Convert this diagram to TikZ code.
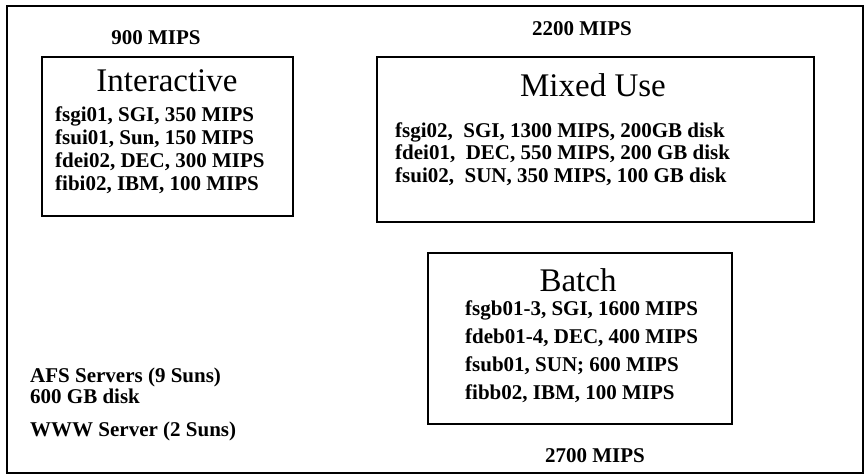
\documentclass[tikz,border=0pt]{standalone}
\usepackage{fontspec}
\setmainfont{Liberation Serif}
\begin{document}
\begin{tikzpicture}[x=1pt,y=-1pt,
  frame/.style={draw,line width=1.6pt},
  grp/.style={draw,line width=2.1pt},
  ttl/.style={font=\fontsize{33}{33}\selectfont,anchor=center,inner sep=0pt},
  itm/.style={font=\fontsize{21}{21}\selectfont\bfseries,anchor=base west,inner sep=0pt},
  mips/.style={font=\fontsize{21}{21}\selectfont\bfseries,anchor=center,inner sep=0pt}]
\useasboundingbox (0,0) rectangle (865,475);
\draw[frame] (7,6) rectangle (863,473);
% Interactive
\node[mips] (m900) at (156,38) {900 MIPS};
\draw[grp] (42,57) rectangle (293,216);
\node[ttl] (tint) at (167,81) {Interactive};
\node[itm] (i1) at (55,121) {fsgi01, SGI, 350 MIPS};
\node[itm] (i2) at (55,144) {fsui01, Sun, 150 MIPS};
\node[itm] (i3) at (55,167) {fdei02, DEC, 300 MIPS};
\node[itm] (i4) at (55,190) {fibi02, IBM, 100 MIPS};
% Mixed use
\node[mips] (m2200) at (582,29) {2200 MIPS};
\draw[grp] (377,57) rectangle (814,222);
\node[ttl] (tmix) at (593,85) {Mixed Use};
\node[itm] (x1) at (395,137) {fsgi02,\ \ SGI, 1300 MIPS, 200GB disk};
\node[itm] (x2) at (395,159) {fdei01,\ \ DEC, 550 MIPS, 200 GB disk};
\node[itm] (x3) at (395,182) {fsui02,\ \ SUN, 350 MIPS, 100 GB disk};
% Batch
\draw[grp] (428,253) rectangle (732,424);
\node[ttl] (tbat) at (578,280) {Batch};
\node[itm] (b1) at (465,315) {fsgb01-3, SGI, 1600 MIPS};
\node[itm] (b2) at (465,343) {fdeb01-4, DEC, 400 MIPS};
\node[itm] (b3) at (465,371) {fsub01, SUN; 600 MIPS};
\node[itm] (b4) at (465,399) {fibb02, IBM, 100 MIPS};
\node[mips] (m2700) at (595,456) {2700 MIPS};
% Servers
\node[itm] (afs) at (30,382) {AFS Servers (9 Suns)};
\node[itm] (disk) at (30,403) {600 GB disk};
\node[itm] (www) at (30,436) {WWW Server (2 Suns)};
\end{tikzpicture}
\end{document}
